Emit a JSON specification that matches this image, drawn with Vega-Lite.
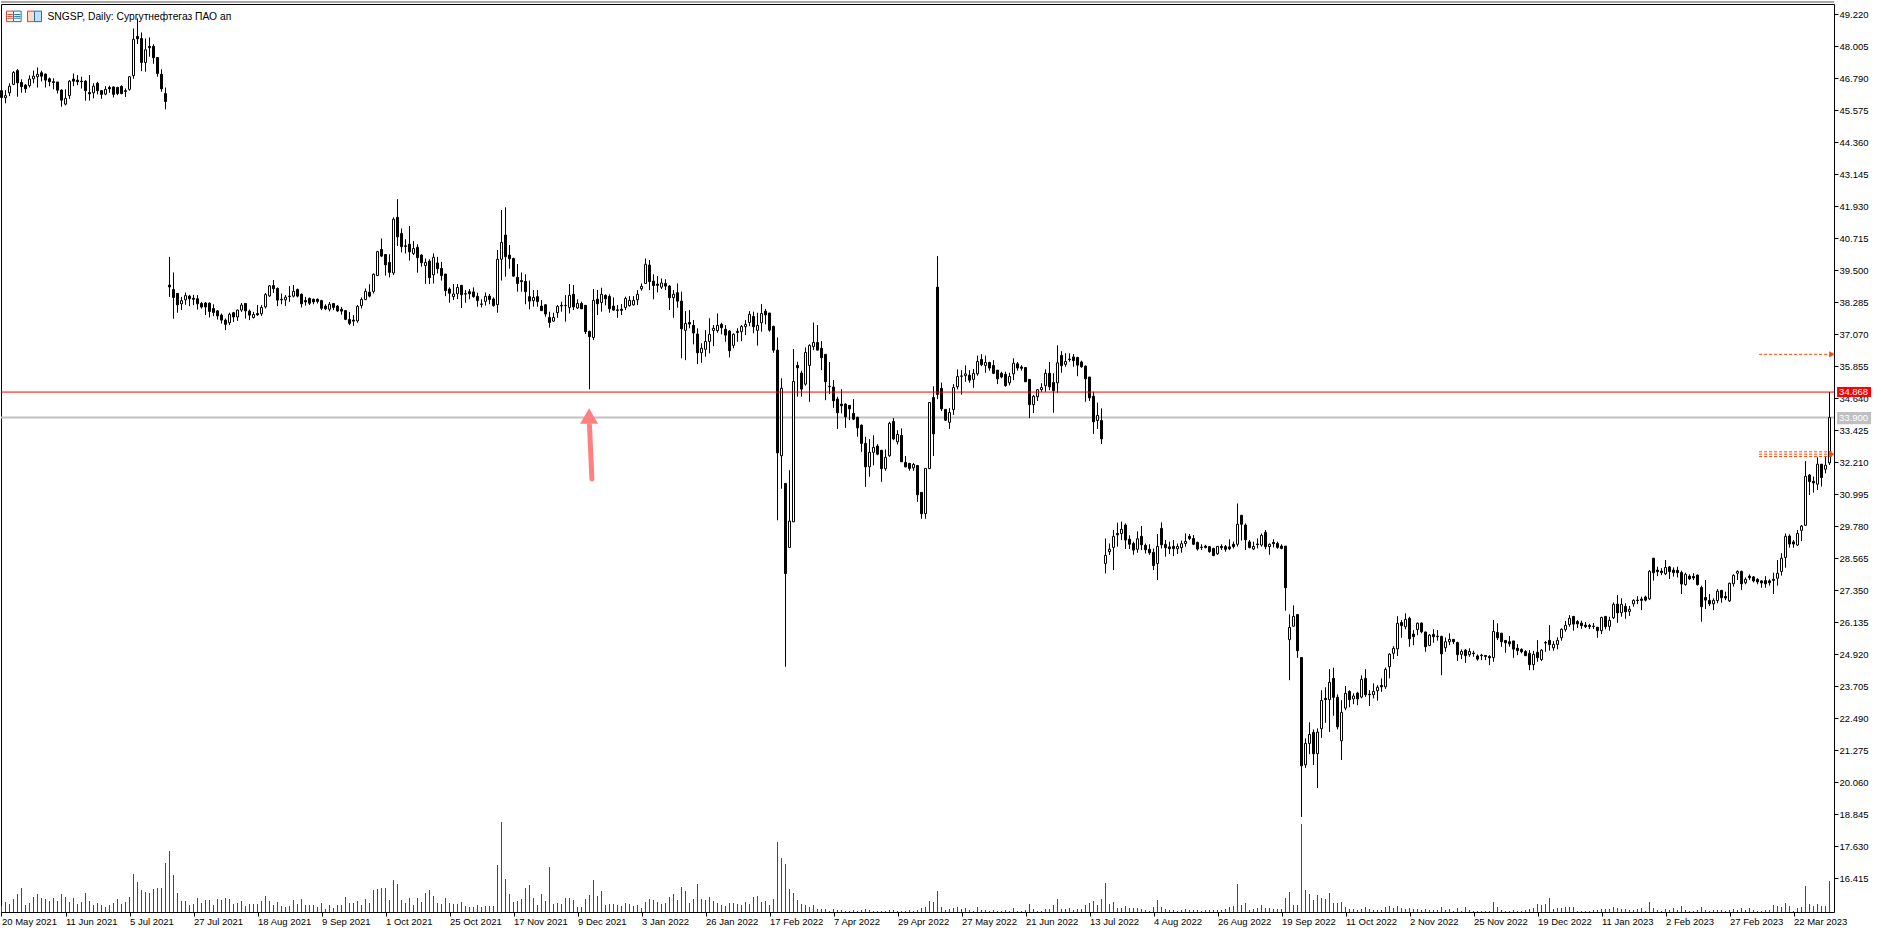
{"$schema":"https://vega.github.io/schema/vega-lite/v6.json","width":1833,"height":908,"autosize":{"type":"none"},"padding":{"left":1,"top":4,"right":47,"bottom":20},"background":"white","config":{"view":{"stroke":"black","strokeWidth":1},"font":"Liberation Sans","axis":{"grid":false,"title":null}},
"datasets":{"bars":[
{"i":0,"o":46.31,"h":46.33,"l":45.8,"c":46.05,"v":6},{"i":1,"o":46.04,"h":46.33,"l":45.83,"c":46.12,"v":10},{"i":2,"o":46.23,"h":46.59,"l":46.1,"c":46.48,"v":8},{"i":3,"o":46.55,"h":47.05,"l":46.52,"c":47.0,"v":13},{"i":4,"o":47.07,"h":47.13,"l":46.08,"c":46.61,"v":18},{"i":5,"o":46.62,"h":46.74,"l":46.23,"c":46.46,"v":24},{"i":6,"o":46.52,"h":46.56,"l":46.23,"c":46.38,"v":7},{"i":7,"o":46.5,"h":46.89,"l":46.43,"c":46.75,"v":9},{"i":8,"o":46.76,"h":47.07,"l":46.59,"c":46.86,"v":15},{"i":9,"o":46.84,"h":47.19,"l":46.43,"c":46.93,"v":18},
{"i":10,"o":46.99,"h":47.07,"l":46.66,"c":46.86,"v":14},{"i":11,"o":46.94,"h":46.96,"l":46.43,"c":46.71,"v":13},{"i":12,"o":46.76,"h":46.81,"l":46.48,"c":46.65,"v":11},{"i":13,"o":46.65,"h":46.78,"l":46.36,"c":46.62,"v":14},{"i":14,"o":46.64,"h":46.64,"l":46.2,"c":46.33,"v":11},{"i":15,"o":46.33,"h":46.36,"l":45.7,"c":45.95,"v":18},{"i":16,"o":45.8,"h":46.36,"l":45.75,"c":46.02,"v":15},{"i":17,"o":46.12,"h":46.71,"l":46.0,"c":46.67,"v":10},{"i":18,"o":46.75,"h":46.96,"l":46.48,"c":46.67,"v":14},{"i":19,"o":46.71,"h":46.9,"l":46.52,"c":46.65,"v":8},
{"i":20,"o":46.67,"h":46.84,"l":46.39,"c":46.65,"v":10},{"i":21,"o":46.67,"h":46.71,"l":45.93,"c":46.31,"v":19},{"i":22,"o":46.24,"h":46.9,"l":45.93,"c":46.19,"v":11},{"i":23,"o":46.23,"h":46.59,"l":46.02,"c":46.48,"v":7},{"i":24,"o":46.59,"h":46.65,"l":46.17,"c":46.31,"v":9},{"i":25,"o":46.31,"h":46.33,"l":46.0,"c":46.17,"v":7},{"i":26,"o":46.18,"h":46.48,"l":46.14,"c":46.36,"v":5},{"i":27,"o":46.43,"h":46.5,"l":46.23,"c":46.38,"v":7},{"i":28,"o":46.45,"h":46.47,"l":46.05,"c":46.17,"v":9},{"i":29,"o":46.43,"h":46.46,"l":46.14,"c":46.2,"v":13},
{"i":30,"o":46.47,"h":46.51,"l":46.17,"c":46.2,"v":8},{"i":31,"o":46.31,"h":46.39,"l":46.07,"c":46.28,"v":10},{"i":32,"o":46.36,"h":46.86,"l":46.31,"c":46.84,"v":15},{"i":33,"o":46.88,"h":48.67,"l":46.76,"c":48.26,"v":38},{"i":34,"o":48.37,"h":49.05,"l":48.08,"c":48.28,"v":30},{"i":35,"o":48.29,"h":48.52,"l":47.05,"c":47.38,"v":22},{"i":36,"o":47.38,"h":48.29,"l":47.03,"c":47.86,"v":20},{"i":37,"o":47.99,"h":48.33,"l":47.6,"c":47.94,"v":19},{"i":38,"o":47.99,"h":48.07,"l":47.33,"c":47.56,"v":23},{"i":39,"o":47.57,"h":47.57,"l":46.84,"c":46.96,"v":24},
{"i":40,"o":46.93,"h":47.12,"l":46.27,"c":46.38,"v":24},{"i":41,"o":46.2,"h":46.43,"l":45.6,"c":45.9,"v":49},{"i":42,"o":38.93,"h":40.0,"l":38.48,"c":38.86,"v":61},{"i":43,"o":38.76,"h":39.41,"l":37.65,"c":38.46,"v":37},{"i":44,"o":38.61,"h":38.61,"l":37.88,"c":38.18,"v":19},{"i":45,"o":38.22,"h":38.48,"l":37.98,"c":38.34,"v":11},{"i":46,"o":38.37,"h":38.65,"l":38.18,"c":38.53,"v":11},{"i":47,"o":38.51,"h":38.56,"l":38.13,"c":38.41,"v":7},{"i":48,"o":38.43,"h":38.56,"l":38.17,"c":38.39,"v":8},{"i":49,"o":38.41,"h":38.55,"l":38.0,"c":38.22,"v":14},
{"i":50,"o":38.23,"h":38.29,"l":38.04,"c":38.1,"v":9},{"i":51,"o":38.25,"h":38.29,"l":37.79,"c":38.1,"v":12},{"i":52,"o":38.24,"h":38.27,"l":37.7,"c":37.93,"v":12},{"i":53,"o":38.04,"h":38.2,"l":37.75,"c":37.89,"v":7},{"i":54,"o":37.95,"h":37.98,"l":37.62,"c":37.76,"v":13},{"i":55,"o":37.79,"h":37.85,"l":37.47,"c":37.6,"v":12},{"i":56,"o":37.6,"h":37.66,"l":37.22,"c":37.44,"v":14},{"i":57,"o":37.5,"h":37.88,"l":37.41,"c":37.82,"v":13},{"i":58,"o":37.88,"h":37.91,"l":37.53,"c":37.72,"v":8},{"i":59,"o":37.72,"h":38.0,"l":37.57,"c":37.98,"v":9},
{"i":60,"o":37.98,"h":38.25,"l":37.91,"c":38.17,"v":11},{"i":61,"o":38.23,"h":38.25,"l":37.66,"c":37.95,"v":6},{"i":62,"o":37.94,"h":38.0,"l":37.6,"c":37.79,"v":8},{"i":63,"o":37.7,"h":37.91,"l":37.66,"c":37.81,"v":8},{"i":64,"o":37.85,"h":38.17,"l":37.76,"c":37.8,"v":8},{"i":65,"o":37.84,"h":38.17,"l":37.76,"c":38.08,"v":11},{"i":66,"o":38.1,"h":38.63,"l":38.04,"c":38.57,"v":16},{"i":67,"o":38.52,"h":38.93,"l":38.48,"c":38.9,"v":11},{"i":68,"o":38.91,"h":39.12,"l":38.63,"c":38.79,"v":7},{"i":69,"o":38.8,"h":38.84,"l":38.13,"c":38.36,"v":10},
{"i":70,"o":38.39,"h":38.61,"l":38.2,"c":38.37,"v":6},{"i":71,"o":38.37,"h":38.55,"l":38.14,"c":38.47,"v":5},{"i":72,"o":38.51,"h":38.89,"l":38.29,"c":38.49,"v":6},{"i":73,"o":38.51,"h":38.93,"l":38.46,"c":38.69,"v":12},{"i":74,"o":38.76,"h":38.8,"l":38.46,"c":38.51,"v":8},{"i":75,"o":38.58,"h":38.61,"l":38.08,"c":38.22,"v":13},{"i":76,"o":38.34,"h":38.48,"l":38.15,"c":38.29,"v":7},{"i":77,"o":38.42,"h":38.46,"l":38.17,"c":38.24,"v":7},{"i":78,"o":38.39,"h":38.42,"l":38.2,"c":38.29,"v":7},{"i":79,"o":38.39,"h":38.42,"l":38.23,"c":38.31,"v":5},
{"i":80,"o":38.34,"h":38.37,"l":37.98,"c":38.05,"v":9},{"i":81,"o":38.13,"h":38.2,"l":37.98,"c":38.03,"v":3},{"i":82,"o":38.01,"h":38.29,"l":37.93,"c":38.2,"v":7},{"i":83,"o":38.23,"h":38.25,"l":37.98,"c":38.08,"v":4},{"i":84,"o":38.13,"h":38.17,"l":37.91,"c":37.95,"v":7},{"i":85,"o":38.01,"h":38.1,"l":37.81,"c":37.94,"v":7},{"i":86,"o":37.96,"h":37.98,"l":37.6,"c":37.63,"v":15},{"i":87,"o":37.62,"h":37.91,"l":37.41,"c":37.47,"v":9},{"i":88,"o":37.6,"h":37.79,"l":37.38,"c":37.56,"v":9},{"i":89,"o":37.57,"h":38.17,"l":37.5,"c":38.12,"v":11},
{"i":90,"o":38.15,"h":38.46,"l":38.04,"c":38.38,"v":7},{"i":91,"o":38.38,"h":38.8,"l":38.36,"c":38.69,"v":13},{"i":92,"o":38.66,"h":38.96,"l":38.46,"c":38.51,"v":9},{"i":93,"o":38.69,"h":39.37,"l":38.61,"c":39.34,"v":22},{"i":94,"o":39.29,"h":40.23,"l":39.27,"c":40.2,"v":23},{"i":95,"o":40.28,"h":40.7,"l":40.0,"c":40.03,"v":24},{"i":96,"o":40.09,"h":40.1,"l":39.29,"c":39.7,"v":24},{"i":97,"o":39.79,"h":40.1,"l":39.22,"c":39.41,"v":12},{"i":98,"o":39.39,"h":41.5,"l":39.31,"c":41.43,"v":32},{"i":99,"o":41.5,"h":42.19,"l":40.41,"c":40.76,"v":28},
{"i":100,"o":40.89,"h":41.08,"l":40.17,"c":40.39,"v":12},{"i":101,"o":40.42,"h":40.67,"l":40.13,"c":40.4,"v":9},{"i":102,"o":40.48,"h":41.17,"l":39.86,"c":40.19,"v":14},{"i":103,"o":40.13,"h":40.6,"l":40.07,"c":40.32,"v":7},{"i":104,"o":40.36,"h":40.48,"l":39.4,"c":39.97,"v":14},{"i":105,"o":40.07,"h":40.1,"l":39.63,"c":39.78,"v":10},{"i":106,"o":39.67,"h":39.94,"l":38.98,"c":39.79,"v":19},{"i":107,"o":39.84,"h":39.91,"l":38.97,"c":39.21,"v":22},{"i":108,"o":39.32,"h":40.13,"l":38.99,"c":39.98,"v":16},{"i":109,"o":39.77,"h":40.0,"l":39.37,"c":39.55,"v":9},
{"i":110,"o":39.56,"h":39.81,"l":39.1,"c":39.29,"v":8},{"i":111,"o":39.35,"h":39.35,"l":38.51,"c":38.72,"v":14},{"i":112,"o":38.78,"h":38.84,"l":38.26,"c":38.62,"v":9},{"i":113,"o":38.49,"h":38.97,"l":38.36,"c":38.59,"v":8},{"i":114,"o":38.6,"h":38.97,"l":38.4,"c":38.84,"v":8},{"i":115,"o":38.92,"h":38.93,"l":38.06,"c":38.56,"v":10},{"i":116,"o":38.6,"h":38.74,"l":38.26,"c":38.59,"v":6},{"i":117,"o":38.68,"h":38.78,"l":38.39,"c":38.6,"v":5},{"i":118,"o":38.67,"h":38.84,"l":38.45,"c":38.49,"v":5},{"i":119,"o":38.5,"h":38.64,"l":38.11,"c":38.34,"v":7},
{"i":120,"o":38.21,"h":38.39,"l":38.08,"c":38.2,"v":5},{"i":121,"o":38.31,"h":38.65,"l":38.15,"c":38.5,"v":6},{"i":122,"o":38.51,"h":38.59,"l":38.2,"c":38.38,"v":6},{"i":123,"o":38.4,"h":38.46,"l":38.11,"c":38.15,"v":6},{"i":124,"o":38.19,"h":40.26,"l":37.88,"c":39.91,"v":47},{"i":125,"o":39.91,"h":41.78,"l":39.1,"c":40.55,"v":90},{"i":126,"o":40.83,"h":41.88,"l":39.25,"c":40.01,"v":33},{"i":127,"o":40.07,"h":40.45,"l":39.55,"c":39.93,"v":18},{"i":128,"o":39.94,"h":39.97,"l":39.25,"c":39.27,"v":10},{"i":129,"o":39.22,"h":39.73,"l":38.68,"c":38.99,"v":11},
{"i":130,"o":39.1,"h":39.41,"l":38.68,"c":39.06,"v":13},{"i":131,"o":39.07,"h":39.34,"l":38.2,"c":38.68,"v":24},{"i":132,"o":38.49,"h":39.1,"l":38.01,"c":38.32,"v":27},{"i":133,"o":38.34,"h":38.74,"l":38.11,"c":38.46,"v":14},{"i":134,"o":38.49,"h":38.74,"l":38.11,"c":38.3,"v":7},{"i":135,"o":38.13,"h":38.36,"l":37.96,"c":37.96,"v":18},{"i":136,"o":38.18,"h":38.21,"l":37.73,"c":37.83,"v":11},{"i":137,"o":37.7,"h":37.92,"l":37.31,"c":37.51,"v":45},{"i":138,"o":37.56,"h":37.88,"l":37.54,"c":37.7,"v":8},{"i":139,"o":37.88,"h":38.17,"l":37.69,"c":38.12,"v":9},
{"i":140,"o":38.16,"h":38.3,"l":37.92,"c":38.14,"v":8},{"i":141,"o":38.16,"h":38.55,"l":37.54,"c":38.15,"v":14},{"i":142,"o":38.08,"h":38.97,"l":37.85,"c":38.54,"v":14},{"i":143,"o":38.58,"h":38.93,"l":37.98,"c":38.1,"v":12},{"i":144,"o":38.06,"h":38.39,"l":38.02,"c":38.23,"v":5},{"i":145,"o":38.23,"h":38.3,"l":38.02,"c":38.03,"v":5},{"i":146,"o":38.16,"h":38.17,"l":37.07,"c":37.16,"v":13},{"i":147,"o":37.17,"h":37.2,"l":34.97,"c":36.97,"v":17},{"i":148,"o":36.94,"h":38.78,"l":36.84,"c":38.35,"v":32},{"i":149,"o":38.39,"h":38.74,"l":37.79,"c":38.22,"v":16},
{"i":150,"o":38.27,"h":38.83,"l":37.92,"c":38.58,"v":21},{"i":151,"o":38.54,"h":38.58,"l":38.16,"c":38.41,"v":7},{"i":152,"o":38.5,"h":38.58,"l":37.88,"c":38.03,"v":8},{"i":153,"o":38.13,"h":38.46,"l":37.96,"c":37.98,"v":8},{"i":154,"o":37.99,"h":38.17,"l":37.69,"c":37.97,"v":7},{"i":155,"o":38.01,"h":38.21,"l":37.79,"c":37.97,"v":6},{"i":156,"o":38.08,"h":38.49,"l":37.98,"c":38.42,"v":9},{"i":157,"o":38.15,"h":38.51,"l":38.11,"c":38.35,"v":8},{"i":158,"o":38.18,"h":38.51,"l":38.15,"c":38.35,"v":6},{"i":159,"o":38.37,"h":38.74,"l":38.17,"c":38.58,"v":7},
{"i":160,"o":38.79,"h":38.99,"l":38.72,"c":38.88,"v":4},{"i":161,"o":38.99,"h":39.94,"l":38.97,"c":39.72,"v":10},{"i":162,"o":39.69,"h":39.88,"l":38.74,"c":39.06,"v":13},{"i":163,"o":39.08,"h":39.34,"l":38.39,"c":38.91,"v":12},{"i":164,"o":38.97,"h":39.27,"l":38.65,"c":38.92,"v":10},{"i":165,"o":38.85,"h":39.18,"l":38.78,"c":39.01,"v":8},{"i":166,"o":38.99,"h":39.15,"l":38.74,"c":38.89,"v":9},{"i":167,"o":38.89,"h":38.93,"l":37.98,"c":38.45,"v":15},{"i":168,"o":38.45,"h":38.74,"l":37.69,"c":38.58,"v":18},{"i":169,"o":38.64,"h":38.99,"l":38.07,"c":38.32,"v":12},
{"i":170,"o":38.32,"h":38.68,"l":36.15,"c":37.27,"v":25},{"i":171,"o":37.21,"h":37.94,"l":36.08,"c":37.47,"v":21},{"i":172,"o":37.51,"h":37.98,"l":37.29,"c":37.45,"v":9},{"i":173,"o":37.4,"h":37.6,"l":36.68,"c":37.11,"v":13},{"i":174,"o":37.07,"h":37.29,"l":35.93,"c":36.36,"v":28},{"i":175,"o":36.36,"h":36.72,"l":35.98,"c":36.53,"v":13},{"i":176,"o":36.49,"h":37.22,"l":36.21,"c":36.79,"v":12},{"i":177,"o":36.79,"h":37.67,"l":36.34,"c":37.06,"v":15},{"i":178,"o":37.21,"h":37.41,"l":36.61,"c":37.29,"v":11},{"i":179,"o":37.2,"h":37.85,"l":37.12,"c":37.4,"v":9},
{"i":180,"o":37.44,"h":37.5,"l":37.06,"c":37.31,"v":7},{"i":181,"o":37.25,"h":37.41,"l":36.78,"c":37.03,"v":6},{"i":182,"o":37.18,"h":37.22,"l":36.18,"c":36.44,"v":9},{"i":183,"o":36.64,"h":37.1,"l":36.53,"c":37.06,"v":9},{"i":184,"o":37.17,"h":37.29,"l":36.78,"c":37.13,"v":8},{"i":185,"o":37.16,"h":37.41,"l":36.8,"c":37.36,"v":7},{"i":186,"o":37.35,"h":37.6,"l":37.03,"c":37.44,"v":10},{"i":187,"o":37.51,"h":37.94,"l":37.37,"c":37.82,"v":8},{"i":188,"o":37.74,"h":37.92,"l":37.1,"c":37.35,"v":15},{"i":189,"o":37.21,"h":37.88,"l":36.63,"c":37.4,"v":16},
{"i":190,"o":37.5,"h":38.21,"l":37.16,"c":37.85,"v":10},{"i":191,"o":37.94,"h":38.02,"l":37.44,"c":37.8,"v":11},{"i":192,"o":37.87,"h":37.87,"l":37.16,"c":37.22,"v":7},{"i":193,"o":37.36,"h":37.39,"l":36.36,"c":36.46,"v":13},{"i":194,"o":36.46,"h":36.94,"l":30.0,"c":32.56,"v":70},{"i":195,"o":32.45,"h":35.39,"l":31.2,"c":35.01,"v":54},{"i":196,"o":31.4,"h":31.4,"l":24.44,"c":27.98,"v":48},{"i":197,"o":28.97,"h":31.9,"l":28.97,"c":29.97,"v":23},{"i":198,"o":29.94,"h":36.5,"l":29.94,"c":35.27,"v":19},{"i":199,"o":35.88,"h":36.02,"l":34.69,"c":35.79,"v":12},
{"i":200,"o":35.59,"h":35.68,"l":34.69,"c":34.98,"v":8},{"i":201,"o":35.17,"h":36.56,"l":35.11,"c":36.37,"v":7},{"i":202,"o":35.88,"h":36.68,"l":34.5,"c":36.64,"v":5},{"i":203,"o":36.59,"h":37.51,"l":36.46,"c":36.75,"v":7},{"i":204,"o":36.75,"h":37.41,"l":36.46,"c":36.46,"v":3},{"i":205,"o":36.53,"h":36.8,"l":35.7,"c":36.17,"v":3},{"i":206,"o":36.3,"h":36.3,"l":34.56,"c":35.26,"v":3},{"i":207,"o":35.09,"h":36.01,"l":34.79,"c":35.07,"v":1},{"i":208,"o":35.06,"h":35.32,"l":34.27,"c":34.54,"v":3},{"i":209,"o":34.6,"h":34.69,"l":33.47,"c":34.08,"v":2},
{"i":210,"o":34.41,"h":34.98,"l":34.06,"c":34.35,"v":2},{"i":211,"o":34.41,"h":34.44,"l":33.51,"c":33.93,"v":1},{"i":212,"o":34.36,"h":34.37,"l":33.8,"c":34.23,"v":1},{"i":213,"o":34.06,"h":34.6,"l":33.8,"c":33.84,"v":2},{"i":214,"o":33.91,"h":33.93,"l":33.17,"c":33.51,"v":1},{"i":215,"o":33.61,"h":33.64,"l":32.6,"c":32.92,"v":2},{"i":216,"o":32.92,"h":33.17,"l":31.27,"c":32.03,"v":3},{"i":217,"o":32.03,"h":33.08,"l":31.65,"c":32.58,"v":2},{"i":218,"o":32.58,"h":33.23,"l":32.09,"c":32.77,"v":1},{"i":219,"o":32.82,"h":32.89,"l":32.47,"c":32.51,"v":1},
{"i":220,"o":32.66,"h":32.66,"l":31.46,"c":31.96,"v":1},{"i":221,"o":31.96,"h":32.69,"l":31.88,"c":32.39,"v":1},{"i":222,"o":32.45,"h":33.74,"l":32.41,"c":33.68,"v":2},{"i":223,"o":33.75,"h":33.88,"l":33.04,"c":33.09,"v":2},{"i":224,"o":32.98,"h":33.42,"l":32.88,"c":33.26,"v":1},{"i":225,"o":33.22,"h":33.49,"l":32.22,"c":32.22,"v":1},{"i":226,"o":32.2,"h":32.44,"l":32.01,"c":32.03,"v":1},{"i":227,"o":32.16,"h":32.18,"l":31.88,"c":31.97,"v":2},{"i":228,"o":31.99,"h":32.18,"l":31.88,"c":32.12,"v":1},{"i":229,"o":32.08,"h":32.08,"l":30.7,"c":30.97,"v":2},
{"i":230,"o":31.06,"h":31.06,"l":30.06,"c":30.25,"v":4},{"i":231,"o":30.25,"h":31.97,"l":30.06,"c":31.97,"v":5},{"i":232,"o":31.96,"h":34.47,"l":31.96,"c":34.47,"v":11},{"i":233,"o":34.66,"h":35.09,"l":32.44,"c":33.28,"v":10},{"i":234,"o":38.85,"h":40.03,"l":34.6,"c":34.78,"v":21},{"i":235,"o":35.01,"h":35.23,"l":34.15,"c":34.23,"v":5},{"i":236,"o":34.21,"h":34.21,"l":33.77,"c":33.8,"v":2},{"i":237,"o":33.72,"h":34.26,"l":33.47,"c":34.09,"v":3},{"i":238,"o":34.2,"h":35.17,"l":34.0,"c":35.04,"v":4},{"i":239,"o":35.07,"h":35.73,"l":34.97,"c":35.46,"v":5},
{"i":240,"o":35.48,"h":35.7,"l":34.77,"c":35.47,"v":3},{"i":241,"o":35.49,"h":35.88,"l":35.26,"c":35.56,"v":4},{"i":242,"o":35.51,"h":35.7,"l":35.22,"c":35.32,"v":2},{"i":243,"o":35.35,"h":35.74,"l":35.03,"c":35.58,"v":1},{"i":244,"o":35.56,"h":36.25,"l":35.49,"c":36.03,"v":5},{"i":245,"o":36.11,"h":36.31,"l":35.85,"c":35.91,"v":2},{"i":246,"o":35.88,"h":36.25,"l":35.6,"c":35.99,"v":2},{"i":247,"o":35.99,"h":36.02,"l":35.68,"c":35.78,"v":1},{"i":248,"o":35.88,"h":36.08,"l":35.55,"c":35.58,"v":2},{"i":249,"o":35.7,"h":35.7,"l":35.17,"c":35.37,"v":1},
{"i":250,"o":35.58,"h":35.64,"l":35.39,"c":35.44,"v":1},{"i":251,"o":35.54,"h":35.64,"l":35.07,"c":35.11,"v":2},{"i":252,"o":35.22,"h":35.6,"l":35.12,"c":35.46,"v":1},{"i":253,"o":35.56,"h":36.15,"l":35.32,"c":35.96,"v":4},{"i":254,"o":35.94,"h":36.01,"l":35.68,"c":35.78,"v":1},{"i":255,"o":35.82,"h":35.89,"l":35.68,"c":35.77,"v":1},{"i":256,"o":35.8,"h":35.82,"l":35.25,"c":35.26,"v":2},{"i":257,"o":35.35,"h":35.36,"l":33.88,"c":34.39,"v":8},{"i":258,"o":34.39,"h":34.75,"l":34.07,"c":34.71,"v":3},{"i":259,"o":34.69,"h":34.98,"l":34.53,"c":34.96,"v":1},
{"i":260,"o":34.96,"h":35.2,"l":34.88,"c":35.04,"v":1},{"i":261,"o":35.11,"h":35.73,"l":34.88,"c":35.58,"v":3},{"i":262,"o":35.58,"h":36.01,"l":34.94,"c":35.07,"v":3},{"i":263,"o":35.23,"h":35.58,"l":34.08,"c":34.92,"v":7},{"i":264,"o":35.22,"h":36.64,"l":34.84,"c":35.98,"v":13},{"i":265,"o":36.26,"h":36.42,"l":35.6,"c":35.87,"v":3},{"i":266,"o":35.92,"h":36.34,"l":35.83,"c":36.03,"v":3},{"i":267,"o":36.12,"h":36.34,"l":36.02,"c":36.1,"v":4},{"i":268,"o":36.2,"h":36.31,"l":35.83,"c":36.06,"v":2},{"i":269,"o":36.18,"h":36.21,"l":35.47,"c":35.89,"v":3},
{"i":270,"o":36.01,"h":36.06,"l":35.79,"c":35.83,"v":3},{"i":271,"o":35.85,"h":35.88,"l":34.5,"c":35.37,"v":7},{"i":272,"o":35.44,"h":35.44,"l":34.53,"c":34.65,"v":9},{"i":273,"o":34.71,"h":34.88,"l":33.28,"c":33.74,"v":11},{"i":274,"o":33.79,"h":34.47,"l":33.47,"c":33.98,"v":7},{"i":275,"o":33.79,"h":34.25,"l":32.9,"c":33.09,"v":13},{"i":276,"o":28.36,"h":29.31,"l":27.98,"c":28.67,"v":29},{"i":277,"o":28.81,"h":29.12,"l":28.68,"c":28.9,"v":8},{"i":278,"o":28.97,"h":29.63,"l":28.11,"c":29.39,"v":10},{"i":279,"o":29.5,"h":29.91,"l":29.0,"c":29.45,"v":4},
{"i":280,"o":29.5,"h":29.95,"l":29.25,"c":29.66,"v":4},{"i":281,"o":29.82,"h":29.88,"l":28.91,"c":29.25,"v":6},{"i":282,"o":29.28,"h":29.43,"l":28.91,"c":29.09,"v":4},{"i":283,"o":29.12,"h":29.19,"l":28.69,"c":28.87,"v":4},{"i":284,"o":28.9,"h":29.58,"l":28.77,"c":29.3,"v":4},{"i":285,"o":29.39,"h":29.78,"l":28.87,"c":29.07,"v":3},{"i":286,"o":29.05,"h":29.12,"l":28.74,"c":28.88,"v":2},{"i":287,"o":28.9,"h":29.09,"l":28.69,"c":28.77,"v":1},{"i":288,"o":28.78,"h":28.93,"l":28.11,"c":28.28,"v":5},{"i":289,"o":28.36,"h":29.48,"l":27.73,"c":29.01,"v":12},
{"i":290,"o":29.69,"h":29.92,"l":28.93,"c":29.07,"v":5},{"i":291,"o":29.09,"h":29.25,"l":28.62,"c":28.96,"v":3},{"i":292,"o":28.99,"h":29.19,"l":28.72,"c":28.92,"v":2},{"i":293,"o":29.01,"h":29.25,"l":28.64,"c":28.92,"v":2},{"i":294,"o":28.92,"h":29.12,"l":28.72,"c":29.01,"v":1},{"i":295,"o":28.96,"h":29.23,"l":28.77,"c":29.11,"v":2},{"i":296,"o":29.12,"h":29.5,"l":29.0,"c":29.2,"v":3},{"i":297,"o":29.39,"h":29.48,"l":29.25,"c":29.31,"v":2},{"i":298,"o":29.31,"h":29.44,"l":29.06,"c":29.09,"v":2},{"i":299,"o":29.16,"h":29.19,"l":28.85,"c":28.91,"v":2},
{"i":300,"o":28.98,"h":29.09,"l":28.87,"c":28.97,"v":1},{"i":301,"o":29.02,"h":29.07,"l":28.93,"c":28.97,"v":2},{"i":302,"o":29.0,"h":29.02,"l":28.77,"c":28.81,"v":2},{"i":303,"o":28.93,"h":28.96,"l":28.64,"c":28.66,"v":2},{"i":304,"o":28.73,"h":29.02,"l":28.69,"c":29.01,"v":2},{"i":305,"o":29.01,"h":29.09,"l":28.87,"c":28.96,"v":2},{"i":306,"o":29.0,"h":29.06,"l":28.81,"c":28.9,"v":3},{"i":307,"o":28.99,"h":29.28,"l":28.87,"c":28.92,"v":5},{"i":308,"o":29.09,"h":29.19,"l":28.93,"c":29.0,"v":6},{"i":309,"o":29.09,"h":30.64,"l":29.0,"c":29.85,"v":28},
{"i":310,"o":30.19,"h":30.19,"l":29.23,"c":29.85,"v":7},{"i":311,"o":29.82,"h":29.88,"l":28.87,"c":29.26,"v":9},{"i":312,"o":29.18,"h":29.25,"l":28.93,"c":28.97,"v":2},{"i":313,"o":28.91,"h":29.19,"l":28.87,"c":29.01,"v":3},{"i":314,"o":29.1,"h":29.31,"l":28.93,"c":29.08,"v":4},{"i":315,"o":29.06,"h":29.5,"l":29.0,"c":29.43,"v":7},{"i":316,"o":29.54,"h":29.63,"l":28.9,"c":29.0,"v":4},{"i":317,"o":29.0,"h":29.12,"l":28.69,"c":29.09,"v":4},{"i":318,"o":29.16,"h":29.28,"l":28.97,"c":29.11,"v":3},{"i":319,"o":29.12,"h":29.19,"l":28.92,"c":28.97,"v":3},
{"i":320,"o":29.02,"h":29.09,"l":28.9,"c":28.93,"v":3},{"i":321,"o":29.02,"h":29.02,"l":26.57,"c":27.44,"v":14},{"i":322,"o":25.47,"h":26.43,"l":23.93,"c":25.93,"v":20},{"i":323,"o":25.98,"h":26.77,"l":25.96,"c":26.35,"v":7},{"i":324,"o":26.42,"h":26.44,"l":24.78,"c":25.05,"v":7},{"i":325,"o":24.79,"h":24.79,"l":18.74,"c":20.68,"v":88},{"i":326,"o":20.72,"h":21.72,"l":20.6,"c":21.53,"v":22},{"i":327,"o":21.53,"h":22.33,"l":21.12,"c":21.87,"v":18},{"i":328,"o":21.95,"h":22.06,"l":20.71,"c":21.14,"v":12},{"i":329,"o":21.14,"h":22.1,"l":19.84,"c":21.96,"v":17},
{"i":330,"o":22.09,"h":23.55,"l":21.74,"c":23.16,"v":14},{"i":331,"o":23.24,"h":23.66,"l":22.31,"c":23.19,"v":13},{"i":332,"o":23.19,"h":24.35,"l":21.97,"c":23.85,"v":19},{"i":333,"o":24.0,"h":24.41,"l":22.58,"c":23.28,"v":9},{"i":334,"o":23.28,"h":23.39,"l":22.06,"c":22.16,"v":9},{"i":335,"o":21.63,"h":23.17,"l":20.9,"c":22.71,"v":10},{"i":336,"o":22.87,"h":23.71,"l":22.79,"c":23.43,"v":5},{"i":337,"o":23.5,"h":23.55,"l":22.9,"c":23.19,"v":3},{"i":338,"o":23.22,"h":23.43,"l":23.02,"c":23.33,"v":3},{"i":339,"o":23.44,"h":23.49,"l":22.98,"c":23.22,"v":2},
{"i":340,"o":23.29,"h":24.11,"l":23.24,"c":23.96,"v":3},{"i":341,"o":24.0,"h":24.35,"l":23.3,"c":23.38,"v":5},{"i":342,"o":23.4,"h":23.55,"l":22.95,"c":23.38,"v":3},{"i":343,"o":23.38,"h":23.81,"l":23.24,"c":23.5,"v":2},{"i":344,"o":23.53,"h":23.74,"l":23.15,"c":23.66,"v":2},{"i":345,"o":23.73,"h":24.0,"l":23.49,"c":23.68,"v":2},{"i":346,"o":23.68,"h":24.41,"l":23.6,"c":24.34,"v":5},{"i":347,"o":24.44,"h":24.95,"l":24.0,"c":24.92,"v":6},{"i":348,"o":24.95,"h":25.22,"l":24.73,"c":25.14,"v":4},{"i":349,"o":25.12,"h":26.36,"l":24.85,"c":26.09,"v":6},
{"i":350,"o":26.12,"h":26.21,"l":25.54,"c":26.0,"v":4},{"i":351,"o":25.96,"h":26.47,"l":25.86,"c":26.24,"v":3},{"i":352,"o":26.28,"h":26.34,"l":25.2,"c":25.5,"v":4},{"i":353,"o":25.68,"h":25.83,"l":25.26,"c":25.58,"v":3},{"i":354,"o":25.85,"h":26.12,"l":25.64,"c":26.09,"v":3},{"i":355,"o":26.1,"h":26.12,"l":25.71,"c":25.77,"v":2},{"i":356,"o":25.76,"h":25.77,"l":25.01,"c":25.2,"v":3},{"i":357,"o":25.25,"h":25.68,"l":25.22,"c":25.64,"v":2},{"i":358,"o":25.67,"h":25.86,"l":25.35,"c":25.58,"v":2},{"i":359,"o":25.6,"h":25.83,"l":25.43,"c":25.58,"v":2},
{"i":360,"o":25.59,"h":25.62,"l":24.12,"c":24.93,"v":5},{"i":361,"o":25.16,"h":25.55,"l":25.01,"c":25.39,"v":2},{"i":362,"o":25.39,"h":25.71,"l":25.26,"c":25.48,"v":3},{"i":363,"o":25.48,"h":25.49,"l":25.3,"c":25.39,"v":1},{"i":364,"o":25.36,"h":25.39,"l":24.66,"c":24.9,"v":4},{"i":365,"o":24.91,"h":25.1,"l":24.73,"c":25.02,"v":1},{"i":366,"o":25.07,"h":25.11,"l":24.59,"c":24.86,"v":5},{"i":367,"o":24.9,"h":25.14,"l":24.82,"c":25.02,"v":2},{"i":368,"o":24.96,"h":25.05,"l":24.82,"c":24.94,"v":1},{"i":369,"o":24.85,"h":24.91,"l":24.67,"c":24.73,"v":1},
{"i":370,"o":24.88,"h":24.93,"l":24.69,"c":24.86,"v":1},{"i":371,"o":24.87,"h":24.88,"l":24.69,"c":24.83,"v":1},{"i":372,"o":24.83,"h":24.88,"l":24.5,"c":24.78,"v":1},{"i":373,"o":24.79,"h":26.21,"l":24.63,"c":25.78,"v":10},{"i":374,"o":25.74,"h":26.09,"l":25.45,"c":25.54,"v":5},{"i":375,"o":25.71,"h":25.73,"l":25.2,"c":25.39,"v":2},{"i":376,"o":25.44,"h":25.45,"l":24.97,"c":25.35,"v":1},{"i":377,"o":25.39,"h":25.61,"l":25.2,"c":25.31,"v":1},{"i":378,"o":25.42,"h":25.42,"l":24.78,"c":25.11,"v":2},{"i":379,"o":25.14,"h":25.3,"l":24.88,"c":25.05,"v":1},
{"i":380,"o":25.1,"h":25.14,"l":24.95,"c":25.01,"v":1},{"i":381,"o":25.02,"h":25.07,"l":24.85,"c":24.86,"v":2},{"i":382,"o":24.95,"h":25.07,"l":24.31,"c":24.52,"v":3},{"i":383,"o":24.52,"h":25.04,"l":24.31,"c":24.91,"v":4},{"i":384,"o":24.99,"h":25.45,"l":24.63,"c":24.78,"v":8},{"i":385,"o":24.71,"h":25.11,"l":24.66,"c":25.07,"v":7},{"i":386,"o":25.36,"h":25.42,"l":25.01,"c":25.34,"v":8},{"i":387,"o":25.44,"h":26.02,"l":25.05,"c":25.28,"v":14},{"i":388,"o":25.16,"h":25.42,"l":25.05,"c":25.29,"v":3},{"i":389,"o":25.29,"h":25.56,"l":25.1,"c":25.44,"v":4},
{"i":390,"o":25.54,"h":25.9,"l":25.43,"c":25.86,"v":4},{"i":391,"o":25.85,"h":26.18,"l":25.77,"c":26.01,"v":5},{"i":392,"o":26.04,"h":26.4,"l":25.96,"c":26.28,"v":5},{"i":393,"o":26.35,"h":26.37,"l":25.81,"c":26.06,"v":5},{"i":394,"o":26.16,"h":26.21,"l":25.91,"c":26.07,"v":1},{"i":395,"o":26.1,"h":26.19,"l":25.88,"c":26.0,"v":1},{"i":396,"o":26.02,"h":26.14,"l":25.91,"c":25.96,"v":1},{"i":397,"o":26.01,"h":26.07,"l":25.87,"c":25.96,"v":1},{"i":398,"o":25.98,"h":26.1,"l":25.87,"c":25.97,"v":2},{"i":399,"o":25.94,"h":25.95,"l":25.54,"c":25.81,"v":2},
{"i":400,"o":25.81,"h":26.34,"l":25.68,"c":26.31,"v":3},{"i":401,"o":26.35,"h":26.37,"l":25.86,"c":25.96,"v":3},{"i":402,"o":25.97,"h":26.34,"l":25.81,"c":26.2,"v":3},{"i":403,"o":26.3,"h":26.88,"l":26.25,"c":26.81,"v":5},{"i":404,"o":26.82,"h":27.16,"l":26.11,"c":26.49,"v":4},{"i":405,"o":26.49,"h":27.04,"l":26.34,"c":26.81,"v":3},{"i":406,"o":26.73,"h":26.85,"l":26.26,"c":26.53,"v":3},{"i":407,"o":26.54,"h":26.75,"l":26.37,"c":26.62,"v":2},{"i":408,"o":26.83,"h":27.0,"l":26.72,"c":26.96,"v":2},{"i":409,"o":26.97,"h":27.12,"l":26.82,"c":26.95,"v":3},
{"i":410,"o":27.01,"h":27.1,"l":26.59,"c":26.96,"v":4},{"i":411,"o":27.09,"h":27.14,"l":26.92,"c":26.97,"v":1},{"i":412,"o":27.02,"h":28.11,"l":26.97,"c":28.06,"v":10},{"i":413,"o":28.56,"h":28.56,"l":27.71,"c":28.01,"v":4},{"i":414,"o":28.11,"h":28.24,"l":27.88,"c":28.05,"v":2},{"i":415,"o":28.07,"h":28.18,"l":27.92,"c":28.01,"v":1},{"i":416,"o":27.97,"h":28.49,"l":27.92,"c":28.21,"v":3},{"i":417,"o":28.23,"h":28.26,"l":27.77,"c":28.05,"v":2},{"i":418,"o":28.11,"h":28.21,"l":27.86,"c":28.01,"v":4},{"i":419,"o":28.1,"h":28.24,"l":27.83,"c":28.01,"v":2},
{"i":420,"o":28.02,"h":28.09,"l":27.2,"c":27.58,"v":6},{"i":421,"o":27.56,"h":28.01,"l":27.52,"c":27.95,"v":2},{"i":422,"o":27.88,"h":27.95,"l":27.73,"c":27.78,"v":1},{"i":423,"o":27.87,"h":27.99,"l":27.73,"c":27.81,"v":1},{"i":424,"o":27.92,"h":27.94,"l":27.52,"c":27.56,"v":2},{"i":425,"o":27.45,"h":27.52,"l":26.15,"c":26.72,"v":5},{"i":426,"o":27.07,"h":27.73,"l":26.63,"c":26.97,"v":2},{"i":427,"o":26.96,"h":27.2,"l":26.75,"c":26.83,"v":1},{"i":428,"o":26.83,"h":27.04,"l":26.59,"c":26.96,"v":2},{"i":429,"o":26.95,"h":27.39,"l":26.85,"c":27.31,"v":2},
{"i":430,"o":27.34,"h":27.35,"l":26.87,"c":27.06,"v":2},{"i":431,"o":27.11,"h":27.29,"l":26.97,"c":27.05,"v":1},{"i":432,"o":26.94,"h":27.63,"l":26.9,"c":27.61,"v":2},{"i":433,"o":27.59,"h":27.95,"l":27.48,"c":27.91,"v":3},{"i":434,"o":27.99,"h":28.1,"l":27.73,"c":28.06,"v":2},{"i":435,"o":28.06,"h":28.09,"l":27.35,"c":27.59,"v":4},{"i":436,"o":27.63,"h":27.83,"l":27.57,"c":27.76,"v":2},{"i":437,"o":27.88,"h":27.95,"l":27.73,"c":27.82,"v":4},{"i":438,"o":27.85,"h":27.88,"l":27.64,"c":27.7,"v":2},{"i":439,"o":27.76,"h":27.8,"l":27.57,"c":27.66,"v":1},
{"i":440,"o":27.7,"h":27.72,"l":27.44,"c":27.62,"v":1},{"i":441,"o":27.71,"h":27.88,"l":27.44,"c":27.59,"v":2},{"i":442,"o":27.7,"h":27.76,"l":27.52,"c":27.63,"v":2},{"i":443,"o":27.76,"h":28.01,"l":27.2,"c":27.72,"v":7},{"i":444,"o":27.8,"h":28.49,"l":27.52,"c":27.99,"v":6},{"i":445,"o":28.06,"h":28.75,"l":27.9,"c":28.56,"v":5},{"i":446,"o":28.59,"h":29.5,"l":28.2,"c":29.39,"v":9},{"i":447,"o":29.4,"h":29.47,"l":28.96,"c":29.1,"v":6},{"i":448,"o":29.18,"h":29.25,"l":28.96,"c":29.1,"v":1},{"i":449,"o":29.06,"h":29.63,"l":29.02,"c":29.5,"v":4},
{"i":450,"o":29.62,"h":29.82,"l":29.21,"c":29.78,"v":5},{"i":451,"o":29.81,"h":32.25,"l":29.78,"c":31.67,"v":26},{"i":452,"o":31.72,"h":31.76,"l":30.96,"c":31.47,"v":8},{"i":453,"o":31.48,"h":31.66,"l":31.05,"c":31.42,"v":6},{"i":454,"o":31.37,"h":32.39,"l":31.15,"c":32.13,"v":8},{"i":455,"o":32.13,"h":32.13,"l":31.28,"c":31.62,"v":6},{"i":456,"o":31.94,"h":32.42,"l":31.78,"c":32.09,"v":6},{"i":457,"o":32.18,"h":34.87,"l":32.1,"c":33.9,"v":31}
]},
"layer":[
{"data":{"name":"bars"},"mark":{"type":"rule","color":"#007a00","strokeWidth":1},"encoding":{"x":{"field":"i","type":"quantitative","scale":{"domain":[-0.125,458.125],"nice":false,"zero":false},"axis":{"values":[0,16,32,48,64,80,96,112,128,144,160,176,192,208,224,240,256,272,288,304,320,336,352,368,384,400,416,432,448],"labelExpr":"['20 May 2021','11 Jun 2021','5 Jul 2021','27 Jul 2021','18 Aug 2021','9 Sep 2021','1 Oct 2021','25 Oct 2021','17 Nov 2021','9 Dec 2021','3 Jan 2022','26 Jan 2022','17 Feb 2022','7 Apr 2022','29 Apr 2022','27 May 2022','21 Jun 2022','13 Jul 2022','4 Aug 2022','26 Aug 2022','19 Sep 2022','11 Oct 2022','2 Nov 2022','25 Nov 2022','19 Dec 2022','11 Jan 2023','2 Feb 2023','27 Feb 2023','22 Mar 2023'][datum.value/16]","labelAlign":"left","labelBaseline":"middle","labelPadding":5,"tickSize":4,"tickColor":"black","domain":false,"labelColor":"black","labelFontSize":9.5,"labelFont":"Liberation Sans","labelOverlap":false,"labelFlush":false,"labelBound":false,"title":null}},"y":{"field":"v","type":"quantitative","scale":{"domain":[0,908],"nice":false,"zero":true},"axis":null},"y2":{"datum":0}}},
{"data":{"values":[{"p":33.9}]},"mark":{"type":"rule","color":"#c0c0c0","strokeWidth":2},"encoding":{"y":{"field":"p","type":"quantitative","scale":{"domain":[15.13,49.6],"nice":false,"zero":false},"axis":{"orient":"right","values":[49.22,48.005,46.79,45.575,44.36,43.145,41.93,40.715,39.5,38.285,37.07,35.855,34.64,33.425,32.21,30.995,29.78,28.565,27.35,26.135,24.92,23.705,22.49,21.275,20.06,18.845,17.63,16.415],"format":".3f","tickSize":4,"tickColor":"black","domain":false,"labelColor":"black","labelFontSize":9.5,"labelFont":"Liberation Sans","labelPadding":1,"labelOverlap":false,"labelFlush":false,"labelBound":false,"title":null}}}},
{"data":{"values":[{"p":49.68}]},"mark":{"type":"rule","color":"#a8a8a8","strokeWidth":2,"clip":false},"encoding":{"y":{"field":"p","type":"quantitative","scale":{"domain":[15.13,49.6],"nice":false,"zero":false},"axis":null}}},
{"data":{"name":"bars"},"mark":{"type":"rule","color":"black","strokeWidth":1},"encoding":{"x":{"field":"i","type":"quantitative","scale":{"domain":[-0.125,458.125],"nice":false,"zero":false},"axis":null},"y":{"field":"h","type":"quantitative","scale":{"domain":[15.13,49.6],"nice":false,"zero":false},"axis":null},"y2":{"field":"l"}}},
{"data":{"name":"bars"},"mark":{"type":"bar","size":2,"align":"center","stroke":"black","strokeWidth":1,"orient":"vertical"},"encoding":{"x":{"field":"i","type":"quantitative","scale":{"domain":[-0.125,458.125],"nice":false,"zero":false,"padding":0},"axis":null},"y":{"field":"o","type":"quantitative","scale":{"domain":[15.13,49.6],"nice":false,"zero":false},"axis":null},"y2":{"field":"c"},"fill":{"condition":{"test":"datum.c>=datum.o","value":"white"},"value":"black"}}},
{"data":{"values":[{"p":34.868}]},"mark":{"type":"rule","color":"#ff0000","strokeWidth":1},"encoding":{"y":{"field":"p","type":"quantitative","scale":{"domain":[15.13,49.6],"nice":false,"zero":false},"axis":null}}},
{"data":{"values":[{"a":439.4,"b":457.0,"p":36.3},{"a":439.4,"b":457.6,"p":32.6},{"a":439.4,"b":457.6,"p":32.51},{"a":439.4,"b":457.6,"p":32.42}]},"mark":{"type":"rule","color":"#ff4500","strokeWidth":1,"strokeDash":[3,2]},"encoding":{"x":{"field":"a","type":"quantitative","scale":{"domain":[-0.125,458.125],"nice":false,"zero":false},"axis":null},"x2":{"field":"b"},"y":{"field":"p","type":"quantitative","scale":{"domain":[15.13,49.6],"nice":false,"zero":false},"axis":null}}},
{"data":{"values":[{"a":457.6,"p":36.3},{"a":457.6,"p":32.51}]},"mark":{"type":"point","shape":"triangle-right","filled":true,"color":"#ff4500","size":40,"opacity":1},"encoding":{"x":{"field":"a","type":"quantitative","scale":{"domain":[-0.125,458.125],"nice":false,"zero":false},"axis":null},"y":{"field":"p","type":"quantitative","scale":{"domain":[15.13,49.6],"nice":false,"zero":false},"axis":null}}},
{"data":{"values":[{"a":147.6,"b":147.0,"p":31.57,"q":33.6}]},"mark":{"type":"rule","color":"#ff8080","strokeWidth":5,"strokeCap":"round"},"encoding":{"x":{"field":"a","type":"quantitative","scale":{"domain":[-0.125,458.125],"nice":false,"zero":false},"axis":null},"x2":{"field":"b"},"y":{"field":"p","type":"quantitative","scale":{"domain":[15.13,49.6],"nice":false,"zero":false},"axis":null},"y2":{"field":"q"}}},
{"data":{"values":[{"a":146.9,"p":33.96}]},"mark":{"type":"point","shape":"triangle-up","filled":true,"color":"#ff8080","size":324,"opacity":1},"encoding":{"x":{"field":"a","type":"quantitative","scale":{"domain":[-0.125,458.125],"nice":false,"zero":false},"axis":null},"y":{"field":"p","type":"quantitative","scale":{"domain":[15.13,49.6],"nice":false,"zero":false},"axis":null}}},
{"data":{"values":[{"a":458.9,"b":467.4,"p":35.06,"q":34.68,"f":"#ff0000"},{"a":458.9,"b":467.4,"p":34.11,"q":33.65,"f":"#c0c0c0"}]},"mark":{"type":"rect"},"encoding":{"x":{"field":"a","type":"quantitative","scale":{"domain":[-0.125,458.125],"nice":false,"zero":false},"axis":null},"x2":{"field":"b"},"y":{"field":"p","type":"quantitative","scale":{"domain":[15.13,49.6],"nice":false,"zero":false},"axis":null},"y2":{"field":"q"},"color":{"field":"f","type":"nominal","scale":null}}},
{"data":{"values":[{"a":459.4,"p":34.868,"t":"34.868"},{"a":459.4,"p":33.9,"t":"33.900"}]},"mark":{"type":"text","align":"left","baseline":"middle","color":"white","fontSize":9.5,"font":"Liberation Sans"},"encoding":{"x":{"field":"a","type":"quantitative","scale":{"domain":[-0.125,458.125],"nice":false,"zero":false},"axis":null},"y":{"field":"p","type":"quantitative","scale":{"domain":[15.13,49.6],"nice":false,"zero":false},"axis":null},"text":{"field":"t"}}},
{"data":{"values":[{"a":1.25,"b":3.0,"p":49.33,"q":48.93,"s":"#e0402f","f":"#ffffff"},{"a":3.0,"b":4.9,"p":49.33,"q":48.93,"s":"#1a6fb5","f":"#ffffff"},{"a":6.5,"b":8.25,"p":49.33,"q":48.93,"s":"#e0402f","f":"#ffd8c8"},{"a":8.25,"b":10.0,"p":49.33,"q":48.93,"s":"#1a6fb5","f":"#bfe0f8"}]},"mark":{"type":"rect","strokeWidth":1},"encoding":{"x":{"field":"a","type":"quantitative","scale":{"domain":[-0.125,458.125],"nice":false,"zero":false},"axis":null},"x2":{"field":"b"},"y":{"field":"p","type":"quantitative","scale":{"domain":[15.13,49.6],"nice":false,"zero":false},"axis":null},"y2":{"field":"q"},"fill":{"field":"f","type":"nominal","scale":null},"stroke":{"field":"s","type":"nominal","scale":null}}},
{"data":{"values":[{"a":1.5,"b":2.8,"p":49.2,"s":"#e0402f"},{"a":1.5,"b":2.8,"p":49.13,"s":"#e0402f"},{"a":1.5,"b":2.8,"p":49.06,"s":"#e0402f"},{"a":3.2,"b":4.7,"p":49.2,"s":"#1a6fb5"},{"a":3.2,"b":4.7,"p":49.13,"s":"#1a6fb5"},{"a":3.2,"b":4.7,"p":49.06,"s":"#1a6fb5"}]},"mark":{"type":"rule","strokeWidth":1},"encoding":{"x":{"field":"a","type":"quantitative","scale":{"domain":[-0.125,458.125],"nice":false,"zero":false},"axis":null},"x2":{"field":"b"},"y":{"field":"p","type":"quantitative","scale":{"domain":[15.13,49.6],"nice":false,"zero":false},"axis":null},"color":{"field":"s","type":"nominal","scale":null}}},
{"data":{"values":[{"a":11.5,"p":49.12,"t":"SNGSP, Daily:  Сургутнефтегаз ПАО ап"}]},"mark":{"type":"text","align":"left","baseline":"middle","color":"black","fontSize":10.3,"font":"Liberation Sans"},"encoding":{"x":{"field":"a","type":"quantitative","scale":{"domain":[-0.125,458.125],"nice":false,"zero":false},"axis":null},"y":{"field":"p","type":"quantitative","scale":{"domain":[15.13,49.6],"nice":false,"zero":false},"axis":null},"text":{"field":"t"}}}
],
"resolve":{"scale":{"x":"independent","y":"independent"},"axis":{"x":"independent","y":"independent"}}}
